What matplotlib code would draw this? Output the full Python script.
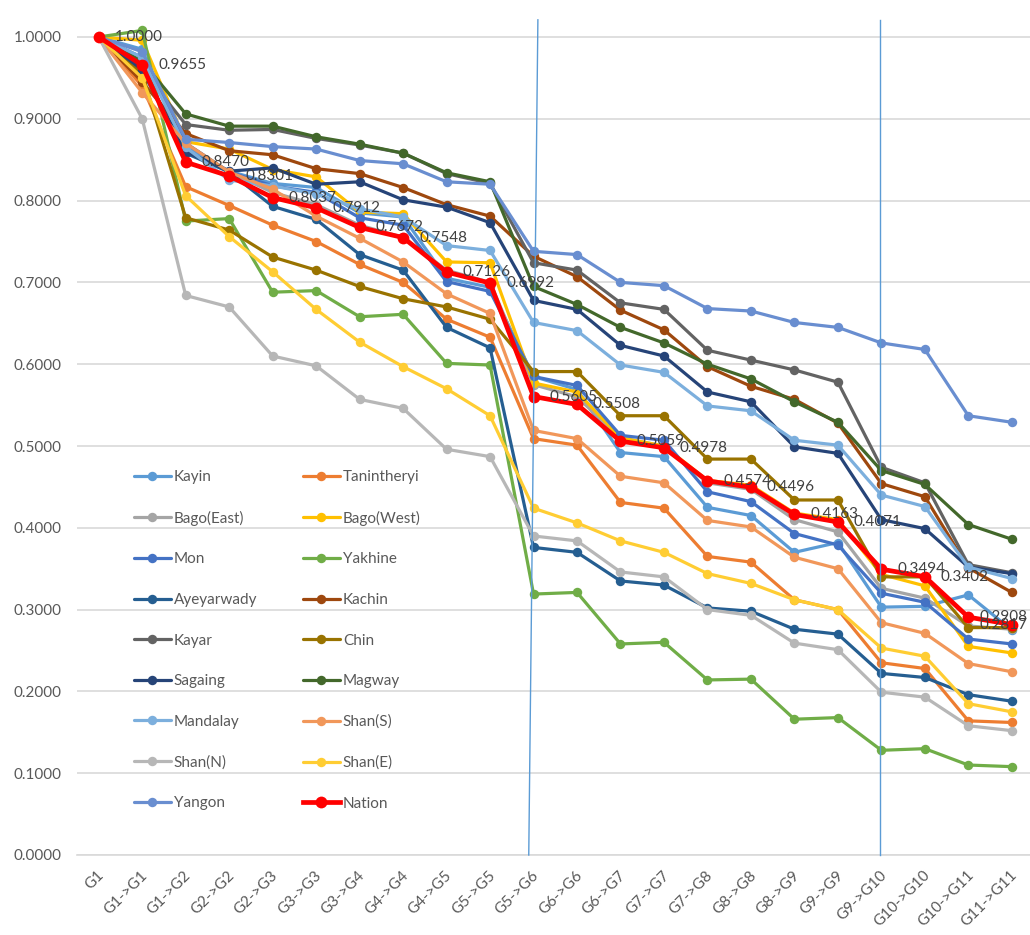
import matplotlib
matplotlib.use("Agg")
import matplotlib.pyplot as plt
from matplotlib.transforms import ScaledTranslation, blended_transform_factory

plt.rcParams['font.family'] = ['Lato', 'DejaVu Sans']

categories = ["G1", "G1->G1", "G1->G2", "G2->G2", "G2->G3", "G3->G3", "G3->G4",
              "G4->G4", "G4->G5", "G5->G5", "G5->G6", "G6->G6", "G6->G7", "G7->G7",
              "G7->G8", "G8->G8", "G8->G9", "G9->G9", "G9->G10", "G10->G10",
              "G10->G11", "G11->G11"]

kayin = [1.0, 0.985, 0.865, 0.836, 0.821, 0.816, 0.785, 0.780, 0.705, 0.694, 0.585,
         0.569, 0.492, 0.487, 0.425, 0.415, 0.370, 0.382, 0.303, 0.304, 0.318, 0.275]
tanintheryi = [1.0, 0.940, 0.817, 0.794, 0.770, 0.750, 0.722, 0.700, 0.655, 0.633, 0.509,
               0.501, 0.431, 0.424, 0.365, 0.358, 0.312, 0.300, 0.235, 0.228, 0.164, 0.162]
bago_east = [1.0, 0.955, 0.870, 0.835, 0.810, 0.795, 0.770, 0.755, 0.715, 0.700, 0.575,
             0.560, 0.510, 0.500, 0.455, 0.447, 0.410, 0.395, 0.326, 0.314, 0.280, 0.276]
bago_west = [1.0, 0.996, 0.872, 0.863, 0.838, 0.829, 0.786, 0.784, 0.725, 0.724, 0.577,
             0.566, 0.510, 0.500, 0.458, 0.452, 0.418, 0.410, 0.343, 0.329, 0.255, 0.247]
mon = [1.0, 0.975, 0.870, 0.835, 0.818, 0.810, 0.779, 0.770, 0.701, 0.689, 0.585,
       0.574, 0.513, 0.507, 0.444, 0.432, 0.393, 0.379, 0.320, 0.309, 0.264, 0.258]
yakhine = [1.0, 1.008, 0.775, 0.778, 0.688, 0.690, 0.658, 0.661, 0.601, 0.599, 0.319,
           0.321, 0.258, 0.260, 0.214, 0.215, 0.166, 0.168, 0.128, 0.130, 0.110, 0.108]
ayeyarwady = [1.0, 0.960, 0.858, 0.835, 0.793, 0.777, 0.734, 0.715, 0.645, 0.620, 0.376,
              0.370, 0.335, 0.330, 0.302, 0.298, 0.276, 0.270, 0.222, 0.217, 0.196, 0.188]
kachin = [1.0, 0.945, 0.882, 0.861, 0.856, 0.839, 0.833, 0.816, 0.795, 0.781, 0.732,
          0.707, 0.666, 0.642, 0.597, 0.573, 0.557, 0.528, 0.454, 0.438, 0.351, 0.321]
kayar = [1.0, 0.960, 0.893, 0.886, 0.887, 0.876, 0.868, 0.858, 0.833, 0.821, 0.724,
         0.715, 0.675, 0.667, 0.617, 0.605, 0.593, 0.578, 0.474, 0.455, 0.355, 0.345]
chin = [1.0, 0.955, 0.779, 0.764, 0.731, 0.715, 0.695, 0.680, 0.670, 0.655, 0.591,
        0.591, 0.537, 0.537, 0.484, 0.484, 0.434, 0.434, 0.340, 0.340, 0.278, 0.278]
sagaing = [1.0, 0.960, 0.860, 0.836, 0.840, 0.820, 0.823, 0.801, 0.792, 0.773, 0.678,
           0.667, 0.623, 0.610, 0.566, 0.554, 0.499, 0.491, 0.410, 0.399, 0.352, 0.344]
magway = [1.0, 0.970, 0.906, 0.891, 0.891, 0.878, 0.869, 0.858, 0.834, 0.823, 0.695,
          0.673, 0.645, 0.626, 0.600, 0.582, 0.554, 0.529, 0.470, 0.453, 0.404, 0.386]
mandalay = [1.0, 0.975, 0.865, 0.825, 0.818, 0.808, 0.790, 0.780, 0.745, 0.739, 0.651,
            0.641, 0.599, 0.590, 0.549, 0.543, 0.507, 0.501, 0.440, 0.426, 0.352, 0.338]
shan_s = [1.0, 0.932, 0.870, 0.835, 0.814, 0.781, 0.754, 0.725, 0.686, 0.662, 0.519,
          0.509, 0.463, 0.455, 0.409, 0.401, 0.364, 0.350, 0.284, 0.271, 0.234, 0.224]
shan_n = [1.0, 0.900, 0.684, 0.670, 0.610, 0.598, 0.557, 0.546, 0.496, 0.487, 0.390,
          0.384, 0.346, 0.340, 0.300, 0.293, 0.259, 0.251, 0.199, 0.193, 0.158, 0.152]
shan_e = [1.0, 0.950, 0.806, 0.756, 0.713, 0.667, 0.627, 0.597, 0.570, 0.537, 0.424,
          0.406, 0.384, 0.370, 0.344, 0.332, 0.312, 0.300, 0.253, 0.243, 0.185, 0.175]
yangon = [1.0, 0.982, 0.875, 0.871, 0.866, 0.863, 0.849, 0.845, 0.823, 0.820, 0.738,
          0.734, 0.700, 0.696, 0.668, 0.665, 0.651, 0.645, 0.626, 0.618, 0.537, 0.529]
nation = [1.0000, 0.9655, 0.8470, 0.8301, 0.8037, 0.7912, 0.7672, 0.7548, 0.7126, 0.6992,
          0.5605, 0.5508, 0.5059, 0.4978, 0.4574, 0.4496, 0.4163, 0.4071, 0.3494, 0.3402,
          0.2908, 0.2817]

series = [
    ("Kayin", kayin, "#5B9BD5"),
    ("Tanintheryi", tanintheryi, "#ED7D31"),
    ("Bago(East)", bago_east, "#A5A5A5"),
    ("Bago(West)", bago_west, "#FFC000"),
    ("Mon", mon, "#4472C4"),
    ("Yakhine", yakhine, "#70AD47"),
    ("Ayeyarwady", ayeyarwady, "#255E91"),
    ("Kachin", kachin, "#9E480E"),
    ("Kayar", kayar, "#636363"),
    ("Chin", chin, "#997300"),
    ("Sagaing", sagaing, "#264478"),
    ("Magway", magway, "#43682B"),
    ("Mandalay", mandalay, "#7CAFDD"),
    ("Shan(S)", shan_s, "#F1975A"),
    ("Shan(N)", shan_n, "#B7B7B7"),
    ("Shan(E)", shan_e, "#FFCD33"),
    ("Yangon", yangon, "#698ED0"),
]

W, H = 1030, 935
fig = plt.figure(figsize=(W / 100, H / 100), dpi=100)
ax = fig.add_axes([77 / W, 80 / H, (W - 77) / W, 855 / H])

x = list(range(len(categories)))
handles = {}
for name, vals, col in series:
    h, = ax.plot(x, vals, color=col, lw=2.3, marker='o', ms=6.8,
                 markeredgewidth=0, label=name, solid_capstyle='round', zorder=3)
    handles[name] = h
h, = ax.plot(x, nation, color="#FF0000", lw=3.4, marker='o', ms=8.5,
             markeredgewidth=0, label="Nation", zorder=4)
handles["Nation"] = h

# value labels for the national line; the last two are kept inside the plot area
edge = blended_transform_factory(ax.transAxes, ax.transData)
inset = ScaledTranslation(-2 / 100, 0, fig.dpi_scale_trans)
for i, v in enumerate(nation):
    if i >= len(nation) - 2:
        ax.text(1.0, v, f"{v:.4f}", transform=edge + inset, ha='right', va='center',
                fontsize=11, color="#404040", zorder=6)
    else:
        ax.annotate(f"{v:.4f}", (i, v), xytext=(11.5, 0), textcoords='offset points',
                    ha='left', va='center', fontsize=11, color="#404040", zorder=6)

# separators between school stages
ax.plot([9.89, 10.10], [0, 1.021], color="#5B9BD5", lw=1.0, zorder=5, clip_on=False)
ax.plot([17.97, 17.97], [0, 1.021], color="#5B9BD5", lw=1.0, zorder=5, clip_on=False)

ax.set_xlim(-0.5, -0.5 + (W - 77) / 43.48)
ax.set_ylim(0, 855 / 818)
yt = [i / 10 for i in range(11)]
ax.set_yticks(yt)
ax.set_yticklabels([f"{t:.4f}" for t in yt], fontsize=11, color="#595959")
ax.tick_params(axis='y', length=0, pad=11)
ax.set_xticks(x)
ax.set_xticklabels(categories, rotation=45, ha='right', va='center',
                   rotation_mode='anchor', fontsize=11, color="#595959")
ax.tick_params(axis='x', length=0, pad=13)
for lbl in ax.get_xticklabels():
    lbl.set_transform(lbl.get_transform() + ScaledTranslation(3 / 100, 0, fig.dpi_scale_trans))

ax.grid(axis='y', color="#D9D9D9", lw=1.2, zorder=0)
ax.set_axisbelow(True)
for s in ['top', 'right', 'left']:
    ax.spines[s].set_visible(False)
ax.spines['bottom'].set_color("#D9D9D9")
ax.spines['bottom'].set_linewidth(1.2)

order = ["Kayin", "Bago(East)", "Mon", "Ayeyarwady", "Kayar", "Sagaing", "Mandalay",
         "Shan(N)", "Yangon", "Tanintheryi", "Bago(West)", "Yakhine", "Kachin", "Chin",
         "Magway", "Shan(S)", "Shan(E)", "Nation"]
leg = ax.legend([handles[n] for n in order], order, ncol=2, frameon=False,
                loc='upper left', bbox_to_anchor=(128 / W, (935 - 464) / H),
                bbox_transform=fig.transFigure, fontsize=11, labelcolor="#595959",
                handlelength=2.4, handletextpad=0.2, labelspacing=1.74,
                columnspacing=3.0, borderaxespad=0)

fig.savefig("out.png", dpi=100, facecolor="white")
